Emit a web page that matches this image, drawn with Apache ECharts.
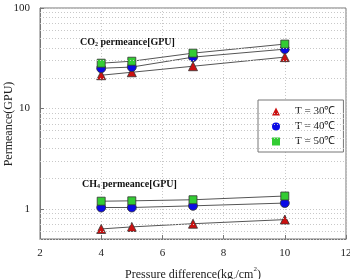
<!DOCTYPE html>
<html><head><meta charset="utf-8">
<script src="https://cdn.jsdelivr.net/npm/echarts@6/dist/echarts.min.js"></script>
<style>html,body{margin:0;padding:0;background:#fff}#c{width:350px;height:279px}</style>
</head><body><div id="c"></div>
<script>
const pressure = [4, 5, 7, 10];
const seriesNames = ['T = 30℃', 'T = 40℃', 'T = 50℃'];
const co2_30 = [21.4, 22.9, 26.3, 32.4];
const co2_40 = [25.1, 25.8, 32.4, 38.9];
const co2_50 = [28.2, 29.5, 35.5, 43.7];
const ch4_30 = [0.63, 0.66, 0.71, 0.78];
const ch4_40 = [1.03, 1.03, 1.07, 1.14];
const ch4_50 = [1.19, 1.20, 1.23, 1.34];
const yMajorTicks = [1, 10, 100];
const xTicks = [2, 4, 6, 8, 10, 12];
const yAxisTitle = 'Permeance(GPU)';

const FONT = '"Liberation Serif", "Times New Roman", serif';
const symbols = ['triangle', 'circle', 'rect'];
const colors = ['#cc1111', '#0a0ae6', '#33cc33'];
const sizes = [9, 9, 8];

function mk(name, vals, i) {
  return {
    type: 'line', name: name,
    data: pressure.map((x, k) => [x, vals[k]]),
    symbol: symbols[i], symbolSize: sizes[i],
    lineStyle: { color: '#555', width: 1 },
    itemStyle: { color: colors[i], borderColor: '#333', borderWidth: 0.8 },
    emphasis: { disabled: true }, z: 3
  };
}
// minor grid values (gridline style only)
const minor = [];
[0.1, 1, 10].forEach(d => { for (let m = 2; m <= 9; m++) { const v = +(m * d).toFixed(2); if (v >= 0.5 && v < 100) minor.push(v); } });

const series = [
  mk(seriesNames[0], co2_30, 0), mk(seriesNames[1], co2_40, 1), mk(seriesNames[2], co2_50, 2),
  mk(seriesNames[0], ch4_30, 0), mk(seriesNames[1], ch4_40, 1), mk(seriesNames[2], ch4_50, 2),
  { type: 'line', data: [], silent: true, z: 1,
    markLine: { silent: true, symbol: 'none', label: { show: false },
      lineStyle: { color: '#c8c8c8', type: [1, 2], width: 1 },
      data: minor.map(v => ({ yAxis: v })) } }
];

const chart = echarts.init(document.getElementById('c'));
chart.setOption({
  animation: false,
  grid: { left: 40, right: 4, top: 8, bottom: 40, containLabel: false, outerBoundsMode: 'none',
    show: true, borderColor: '#777', borderWidth: 1 },
  xAxis: {
    type: 'value', min: xTicks[0], max: xTicks[xTicks.length - 1], interval: 2,
    axisLine: { lineStyle: { color: '#777' } },
    axisTick: { inside: true, length: 4, lineStyle: { color: '#777' } },
    axisLabel: { fontFamily: FONT, fontSize: 11, color: '#222', margin: 9 },
    splitLine: { show: true, lineStyle: { color: '#c8c8c8', type: [1, 2] } },
    name: '{t|Pressure difference(kg}{s|f}{t|/cm}{p|2}{t|)}',
    nameLocation: 'middle', nameGap: 27,
    nameTextStyle: { fontFamily: FONT, color: '#222', rich: {
      t: { fontFamily: FONT, fontSize: 12, color: '#222' },
      s: { fontFamily: FONT, fontSize: 7, color: '#222', verticalAlign: 'bottom', lineHeight: 10 },
      p: { fontFamily: FONT, fontSize: 7, color: '#222', verticalAlign: 'top', lineHeight: 18 } } }
  },
  yAxis: {
    type: 'log', logBase: 10, min: 0.5, max: 100,
    axisLine: { show: true, lineStyle: { color: '#777' } },
    axisTick: { show: true, inside: true, length: 4, lineStyle: { color: '#777' } },
    axisLabel: { fontFamily: FONT, fontSize: 11, color: '#222', margin: 10,
      formatter: v => yMajorTicks.some(t => Math.abs(t - v) < 1e-6) ? String(v) : '' },
    splitLine: { show: true, lineStyle: { color: '#c8c8c8', type: [1, 2] } }
  },
  legend: {
    data: seriesNames.map((n, i) => ({ name: n, icon: symbols[i] })),
    orient: 'vertical', left: 258, top: 100, width: 84,
    backgroundColor: '#fff', borderColor: '#777', borderWidth: 1,
    padding: [6, 8, 5, 14], itemGap: 4, itemWidth: 8, itemHeight: 8,
    itemStyle: { borderWidth: 0 },
    lineStyle: { width: 0, opacity: 0 },
    textStyle: { fontFamily: FONT, fontSize: 11, color: '#222', padding: [0, 0, 0, 10] },
    selectedMode: false
  },
  graphic: [
    { type: 'text', x: 9, y: 124, rotation: Math.PI / 2, z: 10, style: {
      text: yAxisTitle, fontFamily: FONT, fontSize: 12, fill: '#222', align: 'center', verticalAlign: 'middle' } },
    { type: 'text', left: 80, top: 37, z: 10, style: {
      text: '{b|CO}{s|2}{b| permeance[GPU]}', rich: {
        b: { fontFamily: FONT, fontSize: 10, fontWeight: 'bold', fill: '#111' },
        s: { fontFamily: FONT, fontSize: 6, fontWeight: 'bold', fill: '#111', verticalAlign: 'bottom', lineHeight: 8 } } } },
    { type: 'text', left: 82, top: 179, z: 10, style: {
      text: '{b|CH}{s|4}{b| permeance[GPU]}', rich: {
        b: { fontFamily: FONT, fontSize: 10, fontWeight: 'bold', fill: '#111' },
        s: { fontFamily: FONT, fontSize: 6, fontWeight: 'bold', fill: '#111', verticalAlign: 'bottom', lineHeight: 8 } } } }
  ],
  series: series
});
</script></body></html>
